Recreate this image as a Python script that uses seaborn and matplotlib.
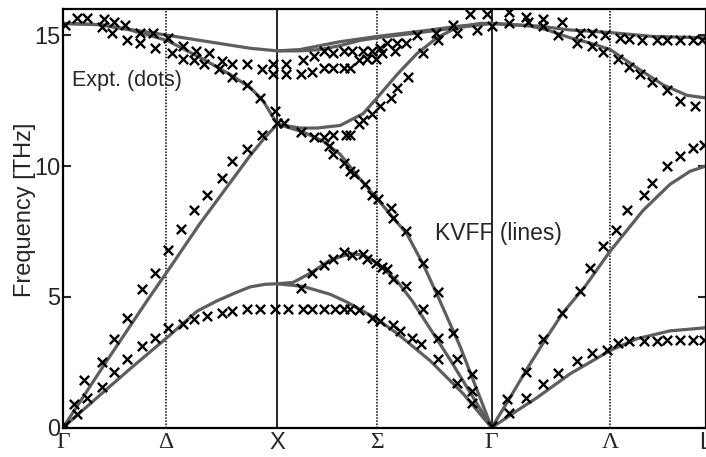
import matplotlib
matplotlib.use("Agg")
import matplotlib.pyplot as plt
from matplotlib import font_manager
import seaborn as sns
import pandas as pd

# high-symmetry path (Gamma-X-Gamma-L, each leg = 1 unit)
tick_pos = [0.0, 0.481, 1.0, 1.465, 2.0, 2.553, 3.0]
tick_labels = ["Γ", "Δ", "X", "Σ", "Γ", "Λ", "L"]
y_ticks = [0, 5, 10, 15]

# KVFF model lines, Gamma -> X
gx_ta_k = [0, 0.173, 0.313, 0.485, 0.625, 0.719, 0.803, 0.873, 0.943, 1.0]
gx_ta_f = [0, 1.25, 2.25, 3.44, 4.45, 4.85, 5.15, 5.38, 5.48, 5.5]
gx_la_k = [0, 0.196, 0.392, 0.485, 0.639, 0.756, 0.873, 0.943, 1.0]
gx_la_f = [0, 2.45, 4.85, 5.95, 7.8, 9.1, 10.4, 11.1, 11.6]
gx_lo_k = [0, 0.173, 0.313, 0.485, 0.639, 0.779, 0.873, 0.933, 1.0]
gx_lo_f = [15.45, 15.4, 15.2, 14.8, 14.15, 13.5, 13.0, 12.5, 11.6]
gx_to_k = [0, 0.173, 0.327, 0.485, 0.639, 0.873, 1.0]
gx_to_f = [15.45, 15.4, 15.2, 15.0, 14.8, 14.5, 14.4]

# KVFF model lines, X -> Gamma (Sigma)
xg_to1_k = [1.0, 1.106, 1.199, 1.293, 1.465, 1.666, 1.853, 2.0]
xg_to1_f = [14.4, 14.45, 14.6, 14.75, 14.95, 15.15, 15.35, 15.45]
xg_to2_k = [1.0, 1.106, 1.199, 1.293, 1.386, 1.465, 1.666, 1.853, 2.0]
xg_to2_f = [14.4, 14.4, 14.45, 14.6, 14.8, 14.9, 15.1, 15.3, 15.45]
xg_lo_k = [1.0, 1.106, 1.185, 1.293, 1.400, 1.465, 1.559, 1.652, 1.745, 1.839, 1.946, 2.0]
xg_lo_f = [11.6, 11.45, 11.45, 11.55, 12.0, 12.6, 13.5, 14.3, 14.9, 15.3, 15.45, 15.45]
xg_la_k = [1.0, 1.120, 1.213, 1.293, 1.386, 1.465, 1.605, 1.680, 1.750, 1.853, 2.0]
xg_la_f = [11.6, 11.3, 10.95, 10.45, 9.5, 8.75, 7.4, 6.25, 5.0, 3.1, 0]
xg_ta2_k = [1.0, 1.073, 1.153, 1.246, 1.339, 1.400, 1.465, 1.559, 1.629, 1.806, 2.0]
xg_ta2_f = [5.5, 5.55, 5.9, 6.4, 6.65, 6.6, 6.3, 5.6, 4.85, 2.6, 0]
xg_ta1_k = [1.0, 1.120, 1.246, 1.325, 1.465, 1.559, 1.713, 1.867, 2.0]
xg_ta1_f = [5.5, 5.4, 5.1, 4.8, 4.15, 3.6, 2.56, 1.3, 0]

# KVFF model lines, Gamma -> L
gl_to_k = [2.0, 2.212, 2.366, 2.553, 2.753, 3.0]
gl_to_f = [15.45, 15.35, 15.2, 15.1, 14.95, 14.9]
gl_lo_k = [2.0, 2.179, 2.259, 2.366, 2.459, 2.553, 2.678, 2.800, 2.912, 3.0]
gl_lo_f = [15.45, 15.35, 15.2, 14.9, 14.7, 14.45, 13.75, 13.1, 12.7, 12.6]
gl_la_k = [2.0, 2.086, 2.165, 2.249, 2.333, 2.436, 2.553, 2.706, 2.832, 2.926, 3.0]
gl_la_f = [0, 1.15, 2.25, 3.35, 4.4, 5.4, 6.75, 8.3, 9.3, 9.8, 10.0]
gl_ta_k = [2.0, 2.109, 2.212, 2.366, 2.553, 2.678, 2.832, 3.0]
gl_ta_f = [0, 0.6, 1.15, 2.06, 2.95, 3.4, 3.7, 3.82]

# experimental points (neutron scattering), Gamma -> X
expt_gx_k = [0.01, 0.065, 0.05, 0.11, 0.10, 0.18, 0.18, 0.24, 0.24, 0.30, 0.30, 0.37, 0.43, 0.49,
             0.56, 0.61, 0.67, 0.74, 0.79, 0.86, 0.92, 0.99,
             0.37, 0.43, 0.49, 0.55, 0.61, 0.67, 0.74, 0.79, 0.86, 0.93, 1.00,
             0.18, 0.23, 0.30, 0.36, 0.43, 0.51, 0.56, 0.61, 0.66, 0.73, 0.79, 0.86, 0.92, 0.99,
             0.01, 0.065, 0.11, 0.19, 0.24, 0.29, 0.36, 0.42, 0.49, 0.56, 0.62, 0.68, 0.74, 0.79,
             0.86, 0.93, 0.98, 0.98]
expt_gx_f = [0.10, 0.53, 0.92, 1.13, 1.83, 1.57, 2.52, 2.14, 3.40, 2.64, 4.20, 3.13, 3.44, 3.82,
             3.97, 4.16, 4.28, 4.39, 4.47, 4.54, 4.54, 4.54,
             5.3, 5.9, 6.8, 7.6, 8.3, 8.9, 9.55, 10.2, 10.65, 11.2, 11.65,
             15.3, 15.1, 14.8, 14.7, 14.5, 14.3, 14.1, 14.05, 13.9, 13.7, 13.4, 13.1, 12.6, 12.1,
             15.4, 15.65, 15.65, 15.6, 15.5, 15.4, 15.1, 15.1, 14.9, 14.6, 14.4, 14.3, 14.0, 13.9,
             13.9, 13.7, 13.9, 13.5]

# experimental points, X -> Gamma
expt_xg_k = [1.03,
             1.04, 1.12, 1.17, 1.22, 1.26, 1.31, 1.35, 1.40, 1.44, 1.48, 1.51, 1.56, 1.60, 1.65,
             1.74, 1.82, 1.90, 1.98,
             1.04, 1.11, 1.16, 1.22, 1.26, 1.31, 1.34, 1.38, 1.42, 1.46, 1.49, 1.55, 1.75, 1.84,
             1.93, 2.00,
             1.11, 1.17, 1.22, 1.26, 1.32, 1.34, 1.38, 1.40, 1.44, 1.48, 1.53, 1.56, 1.61, 1.68,
             1.24, 1.26, 1.31, 1.34, 1.36, 1.41, 1.44, 1.47, 1.53, 1.54, 1.60, 1.68, 1.75,
             1.11, 1.16, 1.22, 1.26, 1.31, 1.35, 1.40, 1.42, 1.46, 1.49, 1.51, 1.54, 1.60, 1.68,
             1.05, 1.12, 1.16, 1.22, 1.27, 1.31, 1.34, 1.38, 1.44, 1.48, 1.54, 1.57, 1.63, 1.67,
             1.75, 1.82, 1.75, 1.84, 1.91, 1.84, 1.91, 1.91, 2.00]
expt_xg_f = [11.65,
             13.9, 14.05, 14.2, 14.4, 14.3, 14.4, 14.4, 14.4, 14.4, 14.5, 14.7, 14.7, 14.7, 15.0,
             15.1, 15.4, 15.8, 15.8,
             13.5, 13.5, 13.6, 13.75, 13.75, 13.75, 13.75, 14.05, 14.1, 14.1, 14.3, 14.4, 14.8, 15.1,
             15.2, 15.35,
             11.3, 11.1, 11.1, 11.2, 11.2, 11.2, 11.6, 11.75, 12.0, 12.3, 12.6, 13.0, 13.4, 14.3,
             10.75, 10.45, 10.1, 9.8, 9.7, 9.3, 8.9, 8.75, 8.4, 8.0, 7.5, 6.3, 5.2,
             5.35, 5.9, 6.2, 6.45, 6.7, 6.6, 6.65, 6.45, 6.3, 6.15, 6.05, 5.7, 5.4, 4.55,
             4.55, 4.55, 4.55, 4.55, 4.55, 4.55, 4.55, 4.5, 4.2, 4.08, 3.93, 3.7, 3.44, 3.2,
             3.44, 3.63, 2.63, 2.63, 2.06, 1.72, 1.41, 0.95, 0.08]

# experimental points, Gamma -> L
expt_gl_k = [2.07, 2.08, 2.16, 2.16, 2.24, 2.24, 2.31, 2.33, 2.40, 2.47, 2.54, 2.59, 2.64, 2.71,
             2.77, 2.82, 2.88, 2.94, 2.99,
             2.41, 2.46, 2.52, 2.58, 2.63, 2.71, 2.75, 2.82, 2.88, 2.94, 2.99,
             2.08, 2.08, 2.16, 2.17, 2.24, 2.24, 2.33, 2.31, 2.41, 2.40, 2.47, 2.47, 2.53, 2.52,
             2.59, 2.60, 2.64, 2.64, 2.70, 2.69, 2.75, 2.77, 2.82, 2.82, 2.88, 2.88, 2.94, 2.95, 2.98]
expt_gl_f = [1.1, 0.57, 1.15, 2.14, 1.68, 3.4, 2.1, 4.4, 2.56, 2.86, 2.98, 3.25, 3.3, 3.3,
             3.3, 3.36, 3.36, 3.36, 3.36,
             5.23, 6.1, 6.95, 7.56, 8.3, 8.9, 9.35, 10.0, 10.4, 10.7, 10.8,
             15.9, 15.45, 15.7, 15.5, 15.6, 15.35, 15.5, 15.0, 15.1, 14.7, 15.1, 14.6, 15.0, 14.35,
             14.1, 14.9, 14.85, 13.8, 14.8, 13.5, 13.2, 14.8, 14.8, 12.9, 14.8, 12.5, 14.8, 12.3, 14.8]

branches = [
    ("gx_ta", gx_ta_k, gx_ta_f), ("gx_la", gx_la_k, gx_la_f),
    ("gx_lo", gx_lo_k, gx_lo_f), ("gx_to", gx_to_k, gx_to_f),
    ("xg_to1", xg_to1_k, xg_to1_f), ("xg_to2", xg_to2_k, xg_to2_f),
    ("xg_lo", xg_lo_k, xg_lo_f), ("xg_la", xg_la_k, xg_la_f),
    ("xg_ta2", xg_ta2_k, xg_ta2_f), ("xg_ta1", xg_ta1_k, xg_ta1_f),
    ("gl_to", gl_to_k, gl_to_f), ("gl_lo", gl_lo_k, gl_lo_f),
    ("gl_la", gl_la_k, gl_la_f), ("gl_ta", gl_ta_k, gl_ta_f),
]
lines = pd.DataFrame(
    [(name, k, f) for name, ks, fs in branches for k, f in zip(ks, fs)],
    columns=["branch", "k", "f"],
)
expt = pd.DataFrame({
    "k": expt_gx_k + expt_xg_k + expt_gl_k,
    "f": expt_gx_f + expt_xg_f + expt_gl_f,
})

sns.set_theme(style="white")
installed = {f.name for f in font_manager.fontManager.ttflist}
sans = "Liberation Sans Narrow" if "Liberation Sans Narrow" in installed else "Liberation Sans"
plt.rcParams["font.family"] = [sans, "DejaVu Sans"]

fig = plt.figure(figsize=(7.06, 4.57), dpi=100)
ax = fig.add_axes([63 / 706, 29.3 / 457, 643 / 706, 418.7 / 457])

for x in [1.0, 2.0]:
    ax.axvline(x, color="black", lw=1.2, zorder=1)
for x in [0.481, 1.465, 2.553]:
    ax.axvline(x, color="black", lw=1.1, ls=(0, (1, 1)), zorder=1)

sns.lineplot(data=lines, x="k", y="f", units="branch", estimator=None, sort=False,
             color="#5e5e5e", lw=2.3, ax=ax, zorder=2)
sns.scatterplot(data=expt, x="k", y="f", marker="x", color="black", s=45,
                linewidth=1.7, ax=ax, zorder=3)

ax.set_xlim(0, 3)
ax.set_ylim(0, 16)
ax.set_xticks(tick_pos)
ax.set_xticklabels(tick_labels)
for lab in ax.get_xticklabels():
    if lab.get_text() in ("Γ", "Δ", "Σ", "Λ"):
        lab.set_fontfamily(["Liberation Serif", "DejaVu Serif"])
ax.tick_params(axis="x", length=0, pad=3, labelsize=17)
ax.set_yticks(y_ticks)
ax.tick_params(axis="y", direction="in", length=6, width=1.5, left=True, right=True,
               pad=2, labelsize=17)
ax.set_xlabel("")
ax.set_ylabel("Frequency [THz]", fontsize=17)
ax.yaxis.set_label_coords(-0.042, 0.52)

for side in ["left", "bottom", "top", "right"]:
    ax.spines[side].set_color("black")
    ax.spines[side].set_linewidth(1.6)

ax.text(0.042, 13.27, "Expt. (dots)", fontsize=15.5, va="center", ha="left")
ax.text(1.736, 7.41, "KVFF (lines)", fontsize=16.5, va="center", ha="left")

fig.savefig("out.png", dpi=100)
